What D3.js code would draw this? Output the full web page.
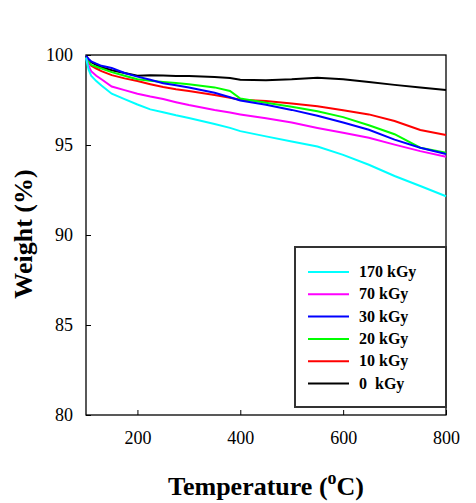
<!DOCTYPE html>
<html>
<head>
<meta charset="utf-8">
<script src="https://cdn.jsdelivr.net/npm/d3@7"></script>
<style>
  html, body { margin: 0; padding: 0; background: #fff; }
  svg { display: block; }
  svg text { font-family: "Liberation Serif", "Times New Roman", Times, "DejaVu Serif", serif !important; }
</style>
</head>
<body>
<svg id="chart" width="476" height="503"></svg>
<script>
// ---- data ----
const temps = [100, 105, 110, 120, 130, 150, 175, 200, 225, 250, 275, 300, 350, 380, 400, 450, 500, 550, 600, 650, 700, 750, 800];
const w170 = [99.85, 99.20, 98.85, 98.55, 98.30, 97.85, 97.55, 97.25, 96.98, 96.82, 96.65, 96.50, 96.17, 95.95, 95.77, 95.48, 95.20, 94.92, 94.45, 93.90, 93.28, 92.72, 92.15];
const w70  = [99.85, 99.40, 99.10, 98.85, 98.65, 98.25, 98.05, 97.85, 97.69, 97.55, 97.38, 97.22, 96.94, 96.80, 96.70, 96.48, 96.25, 95.95, 95.68, 95.40, 95.02, 94.66, 94.35];
const w30  = [99.95, 99.78, 99.65, 99.52, 99.40, 99.28, 99.00, 98.80, 98.62, 98.43, 98.32, 98.20, 97.90, 97.65, 97.47, 97.24, 96.95, 96.62, 96.25, 95.85, 95.30, 94.85, 94.50];
const w20  = [99.90, 99.62, 99.45, 99.35, 99.25, 99.05, 98.85, 98.65, 98.57, 98.50, 98.44, 98.38, 98.20, 98.00, 97.58, 97.35, 97.12, 96.88, 96.55, 96.10, 95.60, 94.85, 94.57];
const w10  = [99.90, 99.60, 99.40, 99.25, 99.10, 98.88, 98.70, 98.55, 98.38, 98.22, 98.10, 98.00, 97.78, 97.62, 97.52, 97.44, 97.30, 97.15, 96.93, 96.70, 96.33, 95.83, 95.56];
const w0   = [99.95, 99.75, 99.60, 99.45, 99.32, 99.15, 99.00, 98.85, 98.87, 98.86, 98.84, 98.83, 98.78, 98.72, 98.62, 98.60, 98.65, 98.74, 98.65, 98.50, 98.34, 98.20, 98.06];
const seriesNames = ["170 kGy", "70 kGy", "30 kGy", "20 kGy", "10 kGy", "0  kGy"];
const seriesColors = ["#00ffff", "#ff00ff", "#0000ff", "#00ff00", "#ff0000", "#000000"];
const xTicks = [200, 400, 600, 800];
const yTicks = [80, 85, 90, 95, 100];

const seriesData = [w170, w70, w30, w20, w10, w0];
const drawOrder = [5, 4, 3, 2, 1, 0];

const svg = d3.select("#chart");
const L = 86, R = 446, T = 55, B = 415;

const x = d3.scaleLinear().domain([100, 800]).range([L, R]);
const y = d3.scaleLinear().domain([80, 100]).range([B, T]);

svg.append("rect")
  .attr("x", L).attr("y", T).attr("width", R - L).attr("height", B - T)
  .attr("fill", "none").attr("stroke", "#000").attr("stroke-width", 1.3);

const xAxis = d3.axisBottom(x).tickValues(xTicks).tickSizeInner(-5).tickSizeOuter(0).tickPadding(16);
const gx = svg.append("g").attr("transform", `translate(0,${B})`).call(xAxis);
gx.attr("font-family", null);
gx.select(".domain").remove();
gx.selectAll("line").attr("stroke", "#000");
gx.selectAll("text").attr("font-size", 18).attr("fill", "#000");

const yAxis = d3.axisLeft(y).tickValues(yTicks).tickSizeInner(-5).tickSizeOuter(0).tickPadding(13);
const gy = svg.append("g").attr("transform", `translate(${L},0)`).call(yAxis);
gy.attr("font-family", null);
gy.select(".domain").remove();
gy.selectAll("line").attr("stroke", "#000");
gy.selectAll("text").attr("font-size", 18).attr("fill", "#000");

const line = d3.line()
  .x((d, i) => x(temps[i]))
  .y(d => y(d));

drawOrder.forEach(k => {
  svg.append("path")
    .datum(seriesData[k])
    .attr("d", line)
    .attr("fill", "none")
    .attr("stroke", seriesColors[k])
    .attr("stroke-width", 2);
});

const lg = svg.append("g");
lg.append("rect")
  .attr("x", 295).attr("y", 247).attr("width", 151).attr("height", 160)
  .attr("fill", "#fff").attr("stroke", "#333").attr("stroke-width", 2);
seriesNames.forEach((name, i) => {
  const cy = 272 + i * 22.3;
  lg.append("line")
    .attr("x1", 308).attr("x2", 349).attr("y1", cy).attr("y2", cy)
    .attr("stroke", seriesColors[i]).attr("stroke-width", 2);
  lg.append("text")
    .attr("x", 359).attr("y", cy + 5)
    .attr("font-size", 16).attr("font-weight", "bold")
    .style("white-space", "pre")
    .text(name);
});

const xt = svg.append("text")
  .attr("x", 266).attr("y", 495)
  .attr("text-anchor", "middle")
  .attr("font-size", 26).attr("font-weight", "bold");
xt.append("tspan").text("Temperature (");
xt.append("tspan").attr("font-size", 18).attr("dy", -11).text("o");
xt.append("tspan").attr("dy", 11).text("C)");

svg.append("text")
  .attr("transform", "translate(32,234) rotate(-90)")
  .attr("text-anchor", "middle")
  .attr("font-size", 26).attr("font-weight", "bold")
  .text("Weight (%)");
</script>
</body>
</html>
